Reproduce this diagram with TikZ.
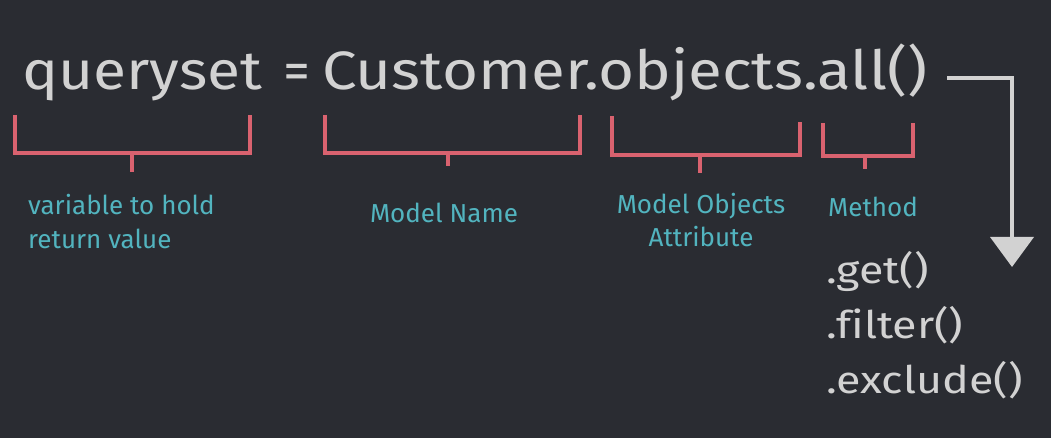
\documentclass[tikz,border=0pt]{standalone}
\usepackage{fontspec}
\setmainfont{Fira Sans}
\usetikzlibrary{arrows.meta}
\definecolor{bg}{HTML}{2A2C32}
\definecolor{codegray}{HTML}{D2D2D2}
\definecolor{bracered}{HTML}{D9626F}
\definecolor{labelteal}{HTML}{52B4BF}
\newcommand{\widen}[2]{\scalebox{#1}[1]{#2}}
\tikzset{
  code/.style={text=codegray, inner sep=0pt, anchor=base west, font=\fontsize{54}{60}\selectfont},
  method/.style={text=codegray, inner sep=0pt, anchor=base west, font=\fontsize{38}{40}\selectfont\addfontfeature{Ligatures=NoCommon}},
  brace/.style={draw=bracered, line width=3.8pt},
  note/.style={text=labelteal, inner sep=0pt, align=center, font=\fontsize{26}{33}\selectfont},
}
\begin{document}
\begin{tikzpicture}[x=1pt,y=-1pt]
\fill[bg] (0,0) rectangle (1051,438);
\useasboundingbox (0,0) rectangle (1051,438);
% the query line
\node[code] (var) at (22,90) {\widen{1.12}{queryset}};
\node[code] (eq) at (283,90) {=};
\node[code] (expr) at (322,90) {\widen{1.146}{Customer.objects.all()}};
% brackets
\draw[brace] (15,115) -- (15,153) -- (250,153) -- (250,115);
\draw[brace] (132,153) -- (132,172);
\draw[brace] (325,115) -- (325,153) -- (580,153) -- (580,115);
\draw[brace] (448,153) -- (448,166);
\draw[brace] (612,116) -- (612,155) -- (800,155) -- (800,122);
\draw[brace] (700,155) -- (700,173);
\draw[brace] (823,123) -- (823,156) -- (913,156) -- (913,123);
\draw[brace] (865,156) -- (865,169);
% labels
\node[note, align=left, anchor=base west] (varnote) at (28,248) {variable to hold\\return value};
\node[note, anchor=base] (modelnote) at (444,223) {Model Name};
\node[note, anchor=base] (attrnote) at (701,247) {Model Objects\\Attribute};
\node[note, anchor=base] (methnote) at (873,217) {Method};
% other methods
\node[method] (get) at (826,283) {\widen{1.18}{.get()}};
\node[method] (filter) at (826,338) {\widen{1.18}{.filter()}};
\node[method] (exclude) at (826,393) {\widen{1.18}{.exclude()}};
% arrow
\coordinate (turn) at (1012,78);
\coordinate (tip) at (1012,267);
\draw[codegray, line width=4pt, -{Triangle[width=43pt,length=30pt]}] ([xshift=20pt]expr.east |- turn) -- (turn) -- (tip);
\end{tikzpicture}
\end{document}
